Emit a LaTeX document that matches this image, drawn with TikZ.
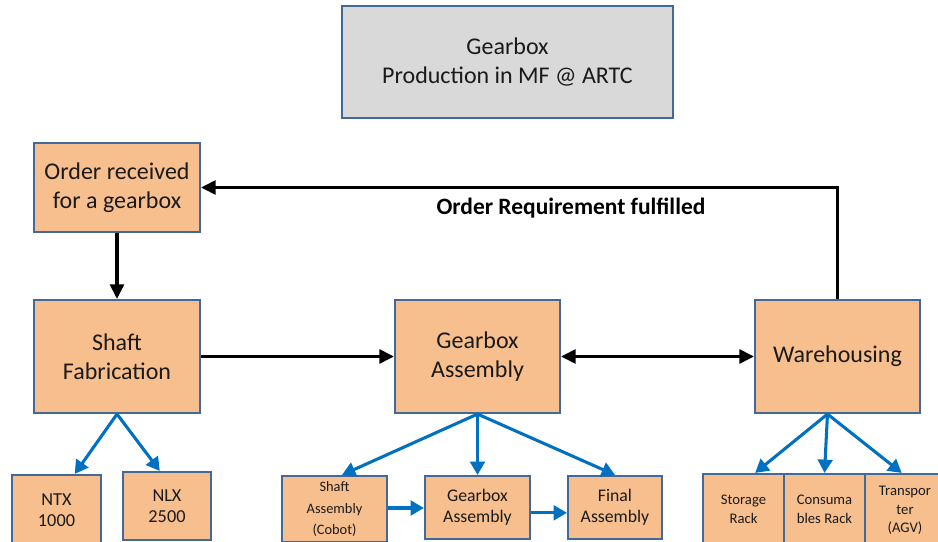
\documentclass[tikz,border=0pt]{standalone}
\usepackage{fontspec}
\setmainfont{Carlito}
\usetikzlibrary{arrows.meta,calc}
\definecolor{boxfill}{HTML}{F8BF8E}
\definecolor{boxline}{HTML}{41699A}
\definecolor{topfill}{HTML}{D9D9D9}
\definecolor{flowblue}{HTML}{0070C0}
\definecolor{inktext}{HTML}{1A1A1A}
\begin{document}
\begin{tikzpicture}[x=0.75pt,y=-0.75pt,
  box/.style={draw=boxline,line width=1.6pt,fill=boxfill,inner sep=0pt,
    align=center,text=inktext,font=\fontsize{18}{21.5}\selectfont},
  subbox/.style={box,font=\fontsize{13.3}{16}\selectfont},
  tinybox/.style={box,font=\fontsize{11}{14}\selectfont},
  mainflow/.style={line width=2.3pt,-{Triangle[length=11pt,width=10.5pt]}},
  subflow/.style={draw=flowblue,line width=2.3pt,-{Triangle[length=10pt,width=11pt]}}]
\useasboundingbox (0,0) rectangle (938,542);
\clip (0,0) rectangle (938,542);

% title
\node[box,fill=topfill,minimum width=248pt,minimum height=84pt] (title) at (507.5,62)
  {Gearbox\\Production in MF @ ARTC};

% main process boxes
\node[box,minimum width=124.5pt,minimum height=66.75pt] (order) at (117,187.5)
  {Order received\\for a gearbox};
\node[box,minimum width=124.5pt,minimum height=84.75pt] (shaft) at (117,356.5)
  {Shaft\\Fabrication};
\node[box,minimum width=123.75pt,minimum height=84.75pt] (gear) at (477.5,356.5)
  {Gearbox\\Assembly};
\node[box,minimum width=123.75pt,minimum height=84.75pt] (ware) at (837.5,356.5)
  {Warehousing};

% machines under shaft fabrication
\node[box,font=\fontsize{13.7}{16}\selectfont,minimum width=66.75pt,minimum height=52.5pt] (ntx) at (56.5,510) {NTX\\1000};
\node[box,font=\fontsize{13.7}{16}\selectfont,minimum width=66pt,minimum height=51pt] (nlx) at (167,506) {NLX\\2500};

% assembly stations
\node[box,font=\fontsize{10.8}{16}\selectfont,minimum width=78.75pt,minimum height=49.5pt] (sasm) at (334.5,509)
  {Shaft\\Assembly\\(Cobot)};
\node[subbox,minimum width=78.75pt,minimum height=47.25pt] (gasm) at (477.5,507.5)
  {Gearbox\\Assembly};
\node[subbox,minimum width=70.5pt,minimum height=47.25pt] (fasm) at (615,507.5)
  {Final\\Assembly};

% warehouse resources
\node[tinybox,minimum width=60.75pt,minimum height=53.25pt] (stor) at (743.5,509.5)
  {Storage\\Rack};
\node[tinybox,minimum width=60.75pt,minimum height=53.25pt] (cons) at (824.5,509.5)
  {Consuma\\bles Rack};
\node[tinybox,minimum width=60pt,minimum height=53.25pt,text depth=0pt] (trans) at (905,509.5)
  {Transpor\\ter\\(AGV)};

% main flow
\draw[mainflow] (order.south) -- (shaft.north);
\draw[mainflow] (shaft.east) -- (gear.west);
\draw[line width=2.3pt,{Triangle[length=11pt,width=10.5pt]}-{Triangle[length=11pt,width=10.5pt]}] (gear.east) -- (ware.west);
\draw[mainflow] (ware.north) |- (order.east);
\node[font=\bfseries\fontsize{17.6}{20}\selectfont,text=black] (done) at (571,208) {Order Requirement fulfilled};

% breakdown arrows
\draw[subflow] (shaft.south) -- ($(ntx.north west)!0.7!(ntx.north east)$);
\draw[subflow] (shaft.south) -- ($(nlx.north west)!0.42!(nlx.north east)$);
\draw[subflow] (gear.south) -- ($(sasm.north west)!0.57!(sasm.north east)$);
\draw[subflow] (gear.south) -- (gasm.north);
\draw[subflow] (gear.south) -- (fasm.north);
\draw[subflow] ([yshift=0.75pt]sasm.east) -- ([yshift=0.75pt]sasm.east -| gasm.west);
\draw[subflow] ([yshift=-4pt]gasm.east) -- ([yshift=-4pt]gasm.east -| fasm.west);
\coordinate (wsrc) at ($(ware.south west)!0.44!(ware.south east)$);
\draw[subflow] (wsrc) -- ($(stor.north west)!0.64!(stor.north east)$);
\draw[subflow] (wsrc) -- (cons.north);
\draw[subflow] (wsrc) -- ($(trans.north west)!0.46!(trans.north east)$);
\end{tikzpicture}
\end{document}
